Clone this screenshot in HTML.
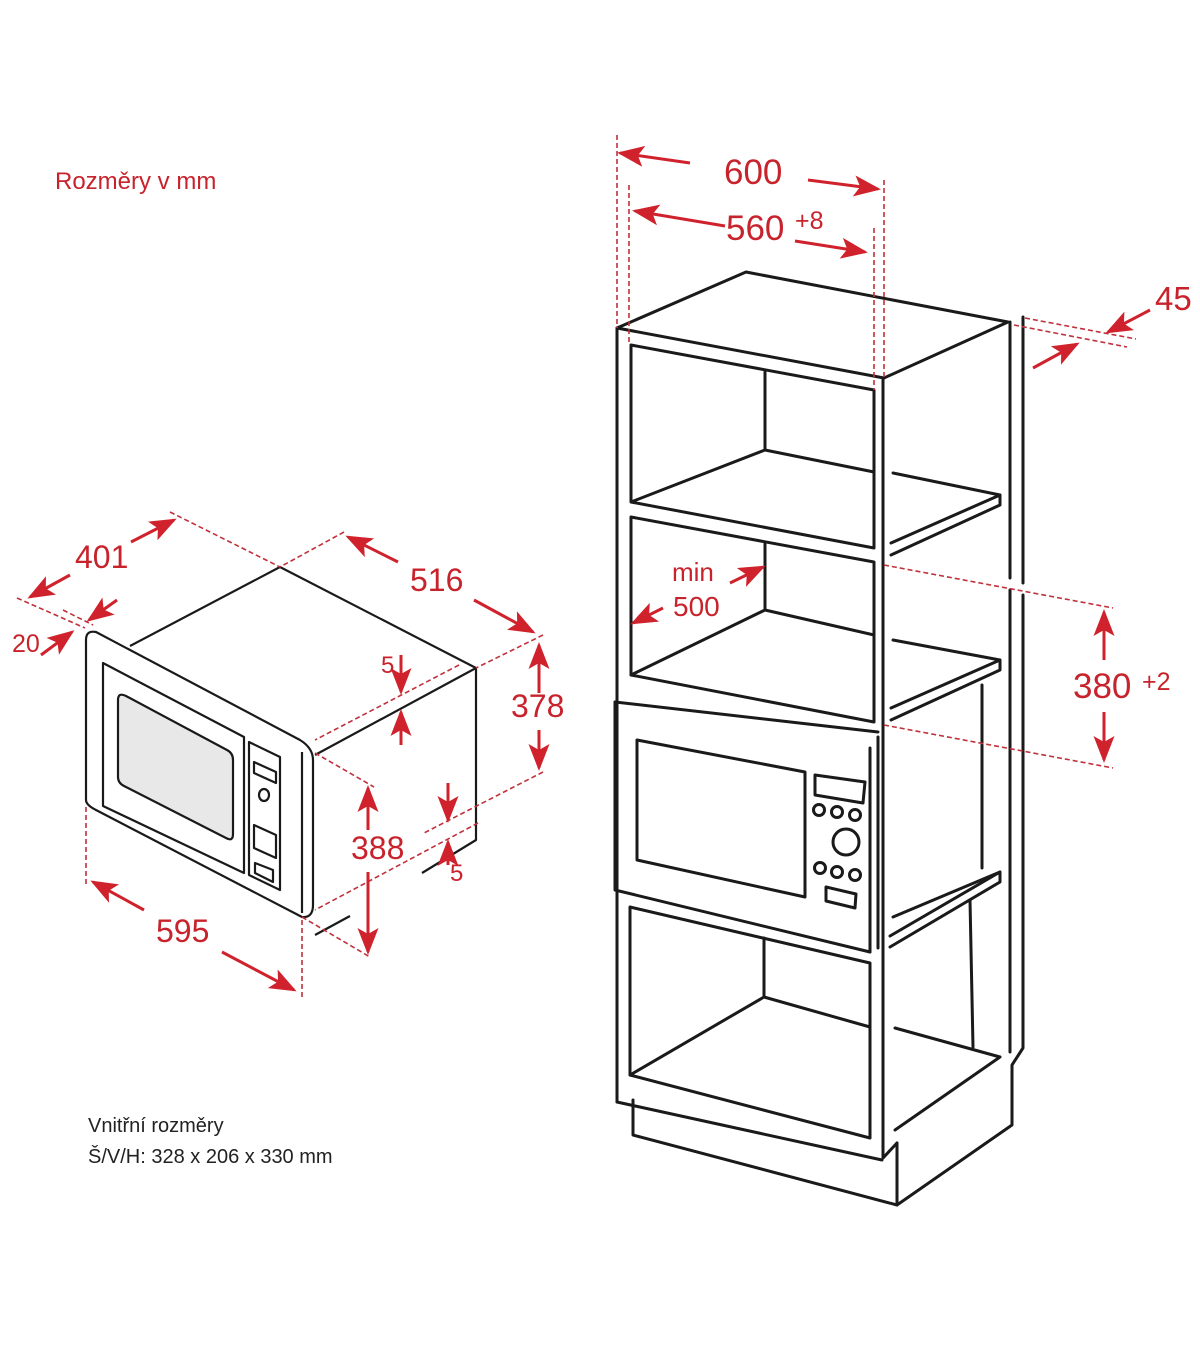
<!DOCTYPE html>
<html><head><meta charset="utf-8"><style>
html,body{margin:0;padding:0;background:#fff;}
svg{display:block;}
.k{stroke:#1a1a1a;fill:none;stroke-width:3;stroke-linejoin:round;stroke-linecap:round}
.m{stroke:#1a1a1a;fill:none;stroke-width:2.2;stroke-linejoin:round}
.d{stroke:#c0313b;fill:none;stroke-width:1.6;stroke-dasharray:5 3}
.a{stroke:#d0222c;fill:none;stroke-width:3;marker-end:url(#ah)}
.t{fill:#c8232c;font-family:"Liberation Sans",sans-serif;font-size:32px}
</style></head><body>
<svg width="1200" height="1372" viewBox="0 0 1200 1372" xmlns="http://www.w3.org/2000/svg">
<defs><marker id="ah" markerWidth="9" markerHeight="7" refX="8" refY="3.5" orient="auto" markerUnits="strokeWidth"><path d="M0,0 L9,3.5 L0,7 L2,3.5 Z" fill="#d0222c"/></marker></defs>

<text x="55" y="189" class="t" style="font-size:24px">Rozměry v mm</text>
<text x="88" y="1132" style="font-family:'Liberation Sans',sans-serif;font-size:20px;fill:#222">Vnitřní rozměry</text>
<text x="88" y="1163" style="font-family:'Liberation Sans',sans-serif;font-size:20px;fill:#222">Š/V/H: 328 x 206 x 330 mm</text>

<!-- LEFT MICROWAVE -->
<g class="m">
<path d="M130,646 L280,567 L476,668 L476,840 L422,873"/>
<path d="M476,668 L315,755"/>
<path d="M315,935 L350,916"/>
<path d="M86,640 Q86,630 96,632 L300,740 Q313,748 313,760 L313,905 Q313,918 302,917 L96,810 Q86,805 86,800 Z"/>
<path d="M302,752 L302,913"/>
<path d="M103,663 L244,737 L244,873 L103,806 Z"/>
<path d="M118,700 Q118,692 126,696 L227,750 Q233,753 233,760 L233,834 Q233,842 226,838 L124,786 Q118,783 118,777 Z" fill="#e8e8e8"/>
<path d="M249,742 L280,757 L280,890 L249,875 Z"/>
<path d="M254,762 L276,772 L276,783 L254,773 Z"/>
<ellipse cx="264" cy="795" rx="5" ry="6"/>
<path d="M254,825 L276,835 L276,858 L254,848 Z"/>
<path d="M255,863 L273,870 L273,882 L255,873 Z"/>
</g>
<g class="d">
<path d="M170,512 L280,567"/><path d="M344,532 L280,567"/>
<path d="M543,635 L476,668"/><path d="M543,772 L422,834"/>
<path d="M315,753 L374,787"/><path d="M459,665 L315,740"/>
<path d="M478,823 L315,910"/><path d="M302,917 L370,957"/>
<path d="M86,807 L86,887"/><path d="M302,920 L302,1000"/>
<path d="M17,598 L85,628"/><path d="M63,610 L93,625"/>
</g>
<g class="a">
<path d="M131,542 L174,520"/><path d="M70,575 L30,597"/>
<path d="M398,562 L348,537"/><path d="M474,600 L533,632"/>
<path d="M117,600 L89,620"/><path d="M41,655 L72,632"/>
<path d="M539,693 L539,645"/><path d="M539,730 L539,768"/>
<path d="M401,655 L401,692"/><path d="M401,745 L401,712"/>
<path d="M368,830 L368,788"/><path d="M368,872 L368,952"/>
<path d="M448,783 L448,820"/><path d="M448,865 L448,842"/>
<path d="M144,910 L93,882"/><path d="M222,952 L294,990"/>
</g>
<text x="75" y="568" class="t">401</text>
<text x="410" y="591" class="t">516</text>
<text x="12" y="652" class="t" style="font-size:25px">20</text>
<text x="511" y="717" class="t">378</text>
<text x="381" y="673" class="t" style="font-size:24px">5</text>
<text x="351" y="859" class="t">388</text>
<text x="450" y="881" class="t" style="font-size:24px">5</text>
<text x="156" y="942" class="t">595</text>

<!-- RIGHT CABINET -->
<g class="k">
<path d="M617,328 L746,272 L1008,322 L884,378 Z"/>
<path d="M617,328 L617,1102"/>
<path d="M883,378 L883,1158 L897,1143"/>
<path d="M1010,322 L1010,578"/><path d="M1010,590 L1010,1052"/>
<path d="M1023,317 L1023,583"/><path d="M1023,595 L1023,1048 L1012,1065 L1012,1125 L897,1205 L633,1135 L633,1100"/>
<path d="M897,1143 L897,1205"/>
<path d="M617,1102 L882,1160"/>
<path d="M631,345 L874,390 L874,548 L631,502 Z"/>
<path d="M765,370 L765,450"/><path d="M631,502 L765,450 L874,472"/>
<path d="M893,473 L1000,495 L1000,505 L891,555"/><path d="M1000,495 L891,543"/>
<path d="M631,517 L874,562 L874,722 L631,675 Z"/>
<path d="M765,543 L765,610"/><path d="M631,675 L765,610 L874,635"/>
<path d="M893,640 L1000,660 L1000,670 L891,720"/><path d="M1000,660 L891,708"/>
<path d="M982,685 L982,868"/>
<path d="M615,702 L878,732"/>
<path d="M615,702 L615,890 L870,952"/>
<path d="M870,748 L870,952"/>
<path d="M878,737 L878,948"/>
<path d="M637,740 L805,772 L805,897 L637,860 Z"/>
<path d="M815,775 L865,782 L863,803 L815,795 Z"/>
<circle cx="819" cy="810" r="5.5"/><circle cx="837" cy="812" r="5.5"/><circle cx="855" cy="815" r="5.5"/>
<circle cx="846" cy="842" r="13"/>
<circle cx="820" cy="868" r="5.5"/><circle cx="837" cy="872" r="5.5"/><circle cx="855" cy="875" r="5.5"/>
<path d="M826,887 L856,894 L855,908 L826,901 Z"/>
<path d="M893,917 L1000,872 L1000,882 L890,947"/><path d="M1000,872 L890,936"/>
<path d="M970,900 L973,1047"/>
<path d="M630,907 L870,963 L870,1138 L630,1075 Z"/>
<path d="M764,938 L764,997"/><path d="M630,1075 L764,997 L870,1027"/>
<path d="M895,1028 L1000,1057 L895,1130"/>
</g>
<g class="d">
<path d="M617,135 L617,328"/><path d="M629,185 L629,345"/>
<path d="M884,180 L884,378"/><path d="M874,228 L874,390"/>
<path d="M884,565 L1113,608"/><path d="M884,725 L1113,768"/>
<path d="M1025,318 L1136,339"/><path d="M1014,325 L1127,347"/>
</g>
<g class="a">
<path d="M690,163 L620,153"/><path d="M808,180 L878,189"/>
<path d="M725,226 L635,211"/><path d="M795,241 L865,252"/>
<path d="M1150,310 L1108,332"/><path d="M1033,368 L1077,344"/>
<path d="M730,583 L763,567"/><path d="M663,608 L633,623"/>
<path d="M1104,660 L1104,612"/><path d="M1104,712 L1104,760"/>
</g>
<text x="724" y="184" class="t" style="font-size:35px">600</text>
<text x="726" y="240" class="t" style="font-size:35px">560</text>
<text x="795" y="229" class="t" style="font-size:25px">+8</text>
<text x="1155" y="310" class="t" style="font-size:33px">45</text>
<text x="672" y="581" class="t" style="font-size:26px">min</text>
<text x="673" y="616" class="t" style="font-size:28px">500</text>
<text x="1073" y="698" class="t" style="font-size:35px">380</text>
<text x="1142" y="690" class="t" style="font-size:25px">+2</text>
</svg>
</body></html>
